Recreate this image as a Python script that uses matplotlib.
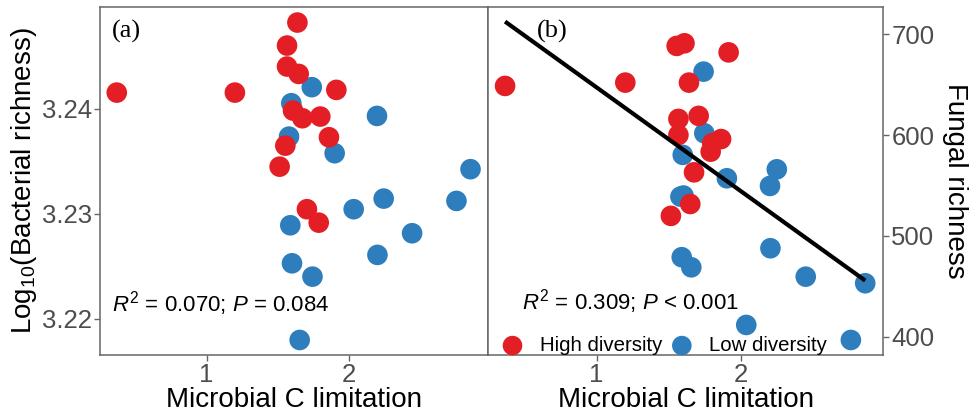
import matplotlib
matplotlib.use("Agg")
import matplotlib.pyplot as plt
import numpy as np

# ---------------- data ----------------
high_x = [0.368, 1.199, 1.514, 1.554, 1.566, 1.566, 1.608, 1.639, 1.648,
          1.674, 1.706, 1.789, 1.800, 1.861, 1.913]
high_bact = [3.24155, 3.24155, 3.2345, 3.2365, 3.24603, 3.24403, 3.23984,
             3.24822, 3.24333, 3.23911, 3.23045, 3.22917, 3.23927, 3.2373, 3.24181]
high_fung = [648.7, 652.0, 519.8, 688.4, 600.0, 616.0, 691.0, 652.0, 531.6,
             563.0, 619.0, 583.5, 592.0, 596.0, 682.0]

low_x = [1.740, 1.745, 1.596, 1.580, 1.589, 1.601, 1.901, 2.199, 2.202,
         2.246, 2.857, 2.758, 2.035, 2.446, 1.655]
low_bact = [3.24207, 3.22403, 3.24054, 3.23736, 3.22892, 3.2253, 3.23578,
            3.23933, 3.2261, 3.23146, 3.23426, 3.23124, 3.23045, 3.22816, 3.218]
low_fung = [662.9, 601.8, 580.3, 538.9, 478.8, 540.0, 557.1, 549.5, 487.7,
            566.0, 453.0, 396.7, 411.6, 459.5, 468.8]

groups = ["High diversity", "Low diversity"]
stats_a = "$R^{2}$ = 0.070; $P$ = 0.084"
stats_b = "$R^{2}$ = 0.309; $P$ < 0.001"
x_ticks = [1, 2]
bact_ticks = [3.22, 3.23, 3.24]
fung_ticks = [400, 500, 600, 700]

# ---------------- style ----------------
plt.rcParams['font.family'] = ['Liberation Sans', 'DejaVu Sans']
plt.rcParams['mathtext.fontset'] = 'custom'
plt.rcParams['mathtext.rm'] = 'Liberation Sans'
plt.rcParams['mathtext.it'] = 'Liberation Sans:italic'

RED = '#E41E25'
BLUE = '#2E7EBD'
SPINE = '#666666'
TICKC = '#4D4D4D'
MS = 220
TITLE_FS = 20
TICK_FS = 18.5

W, H = 977, 418
fig = plt.figure(figsize=(W / 100, H / 100), dpi=100)
ax_a = fig.add_axes([100 / W, (H - 355) / H, 388 / W, 348 / H])
ax_b = fig.add_axes([488 / W, (H - 355) / H, 395 / W, 348 / H])

for ax in (ax_a, ax_b):
    for s in ax.spines.values():
        s.set_color(SPINE)
        s.set_linewidth(1.1)
    ax.tick_params(colors=SPINE, labelcolor=TICKC, labelsize=TICK_FS, length=4,
                   width=1, pad=2)
    ax.set_xlim(0.25, 2.98)
    ax.set_xticks(x_ticks)
    ax.set_xticklabels([str(t) for t in x_ticks])
    ax.set_xlabel("Microbial C limitation", fontsize=TITLE_FS, labelpad=0)

# panel (a)
ax_a.scatter(low_x, low_bact, s=MS, color=BLUE, edgecolors='none', zorder=2)
ax_a.scatter(high_x, high_bact, s=MS, color=RED, edgecolors='none', zorder=3)
ax_a.set_ylim(3.21657, 3.2497)
ax_a.set_yticks(bact_ticks)
ax_a.set_yticklabels([f"{t:.2f}" for t in bact_ticks])
ax_a.set_ylabel("Log$_{10}$(Bacterial richness)", fontsize=TITLE_FS, labelpad=2)
ax_a.text(0.03, 0.93, "(a)", transform=ax_a.transAxes, fontsize=19,
          family=['Liberation Serif', 'DejaVu Serif'], va='center', ha='left')
ax_a.text(0.032, 0.125, stats_a, transform=ax_a.transAxes, fontsize=16,
          va='baseline', ha='left')

# panel (b)
ax_b.scatter(low_x, low_fung, s=MS, color=BLUE, edgecolors='none', zorder=2,
             label=groups[1])
ax_b.scatter(high_x, high_fung, s=MS, color=RED, edgecolors='none', zorder=3,
             label=groups[0])
all_x = np.array(high_x + low_x)
all_y = np.array(high_fung + low_fung)
k, b0 = np.polyfit(all_x, all_y, 1)
xl = np.array([all_x.min(), all_x.max()])
ax_b.plot(xl, k * xl + b0, color='black', lw=3, zorder=4, solid_capstyle='butt')
ax_b.set_ylim(381.8, 727)
ax_b.set_yticks(fung_ticks)
ax_b.set_yticklabels([str(t) for t in fung_ticks])
ax_b.yaxis.tick_right()
ax_b.yaxis.set_label_position('right')
ax_b.set_ylabel("Fungal richness", fontsize=TITLE_FS, rotation=270, labelpad=24)
ax_b.text(0.124, 0.93, "(b)", transform=ax_b.transAxes, fontsize=19,
          family=['Liberation Serif', 'DejaVu Serif'], va='center', ha='left')
ax_b.text(0.087, 0.13, stats_b, transform=ax_b.transAxes, fontsize=16,
          va='baseline', ha='left')

handles, labels = ax_b.get_legend_handles_labels()
order = [1, 0]
ax_b.legend([handles[i] for i in order], [labels[i] for i in order],
            loc='lower left', bbox_to_anchor=(0.0, -0.035), ncol=2, frameon=False,
            fontsize=14.7, handletextpad=0.75, columnspacing=0.35, borderaxespad=0.2,
            handlelength=1.2, markerscale=0.95)

fig.savefig("out.png", dpi=100)
